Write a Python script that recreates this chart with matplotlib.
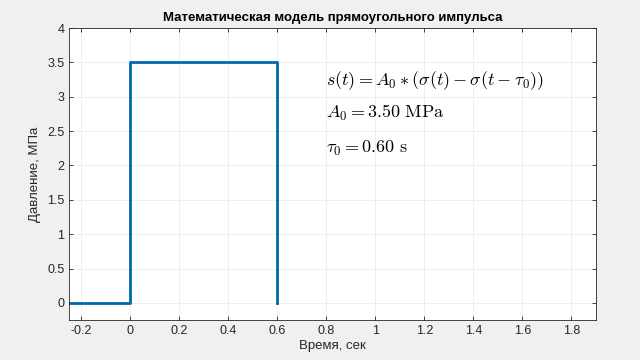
import matplotlib
matplotlib.use('Agg')
import matplotlib.pyplot as plt
import numpy as np

# pulse parameters
A0 = 3.5
tau0 = 0.6
t = [-0.25, 0, 0, tau0, tau0]
s = [0, 0, A0, A0, 0]

xticks = np.round(np.arange(-0.2, 1.81, 0.2), 1)
yticks = np.arange(0, 4.01, 0.5)

plt.rcParams['font.family'] = ['Liberation Sans', 'DejaVu Sans']
plt.rcParams['mathtext.fontset'] = 'cm'

fig = plt.figure(figsize=(6.4, 3.6), dpi=100, facecolor='#f0f0f0')
ax = fig.add_axes([0.108, 0.111, 0.823, 0.811])
ax.plot(t, s, color='#0068b0', lw=2.0)
ax.set_xlim(-0.25, 1.9)
ax.set_ylim(-0.25, 4)
ax.set_xticks(xticks)
ax.set_xticklabels([('%g' % v) for v in xticks])
ax.set_yticks(yticks)
ax.set_yticklabels([('%g' % v) for v in yticks])
ax.grid(True, color='#ebebeb', lw=0.6)
ax.set_axisbelow(True)
ax.tick_params(direction='in', top=True, right=True, labelsize=9, length=3,
               color='#262626', width=0.6, labelcolor='#262626')
for sp in ax.spines.values():
    sp.set_color('#262626')
    sp.set_linewidth(0.6)

ax.set_title('Математическая модель прямоугольного импульса', fontsize=9.5,
             fontweight='bold', pad=5)
ax.set_xlabel('Время, сек', fontsize=9.5, color='#262626', labelpad=2)
ax.set_ylabel('Давление, МПа', fontsize=9.5, color='#262626', labelpad=4)

ax.text(0.8, 3.24, r'$s(t) = A_0 * (\sigma(t) - \sigma(t - \tau_0))$',
        fontsize=13, va='center')
ax.text(0.8, 2.76, r'$A_0 = 3.50\ \mathrm{MPa}$', fontsize=13, va='center')
ax.text(0.8, 2.25, r'$\tau_0 = 0.60\ \mathrm{s}$', fontsize=13, va='center')

fig.savefig('out.png', dpi=100, facecolor=fig.get_facecolor())
